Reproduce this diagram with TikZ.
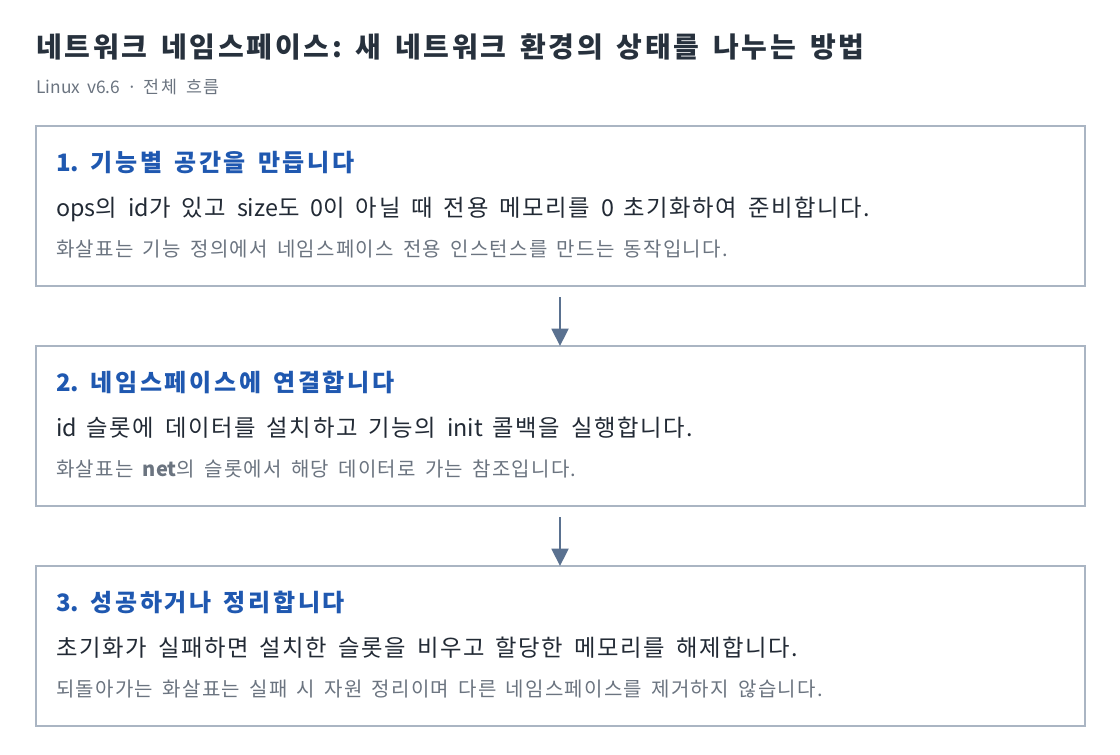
\documentclass[tikz,border=0pt]{standalone}
\usepackage{fontspec}
\setmainfont{Noto Sans CJK KR}
\usetikzlibrary{arrows.meta}
\definecolor{titlec}{HTML}{27313D}
\definecolor{subc}{HTML}{6B7480}
\definecolor{headc}{HTML}{1F58B0}
\definecolor{bodyc}{HTML}{222A35}
\definecolor{notec}{HTML}{6B7480}
\definecolor{framec}{HTML}{AAB5C3}
\definecolor{arrowc}{HTML}{5A7190}
% extra advance after each Hangul syllable
\XeTeXinterchartokenstate=1
\newXeTeXintercharclass\myhgclass
\newdimen\myhgap
\makeatletter
\count@="AC00
\loop\ifnum\count@<"D7A4 \XeTeXcharclass\count@=\myhgclass \advance\count@ by 1 \repeat
\makeatother
\XeTeXinterchartoks\myhgclass 0 = {\kern\myhgap}
\XeTeXinterchartoks\myhgclass\myhgclass = {\kern\myhgap}
\XeTeXinterchartoks\myhgclass 4095 = {\kern\myhgap}
\newcommand\mytitlefnt{\fontsize{21}{25}\selectfont\bfseries\myhgap=0.097em\spaceskip=0.4em\relax}
\newcommand\mysubfnt{\fontsize{13}{15}\selectfont\myhgap=0.1em\spaceskip=0.4em\relax}
\newcommand\myheadfnt{\fontsize{18}{21}\selectfont\bfseries\myhgap=0.11em\spaceskip=0.4em\relax}
\newcommand\mybodyfnt{\fontsize{17.5}{20}\selectfont\myhgap=0.07em\spaceskip=0.4em\relax}
\newcommand\mynotefnt{\fontsize{15}{17}\selectfont\myhgap=0.064em\spaceskip=0.4em\relax}
\tikzset{
  stepbox/.style={draw=framec, line width=1pt, fill=white},
  titletext/.style={anchor=base west, inner sep=0, text=titlec, font=\mytitlefnt},
  subtext/.style={anchor=base west, inner sep=0, text=subc, font=\mysubfnt},
  headtext/.style={anchor=base west, inner sep=0, text=headc, font=\myheadfnt},
  bodytext/.style={anchor=base west, inner sep=0, text=bodyc, font=\mybodyfnt},
  notetext/.style={anchor=base west, inner sep=0, text=notec, font=\mynotefnt},
  flow/.style={draw=arrowc, line width=2.2pt, -{Triangle[length=13pt,width=12.5pt]}, shorten >=0pt},
}
\begin{document}
\begin{tikzpicture}[x=0.75pt,y=-0.75pt]
\useasboundingbox[fill=white] (0,0) rectangle (1120,754);
\node[titletext] (title) at (36,57) {네트워크 네임스페이스: 새 네트워크 환경의 상태를 나누는 방법};
\node[subtext] (sub) at (36,93) {Linux v6.6 · 전체 흐름};

\draw[stepbox] (36,126) rectangle (1085,286);
\coordinate (b1top) at (560,126);
\coordinate (b1bot) at (560,286);
\node[headtext] (h1) at (56,171) {1. 기능별 공간을 만듭니다};
\node[bodytext] (t1) at (56,216) {ops의 id가 있고 size도 0이 아닐 때 전용 메모리를 0 초기화하여 준비합니다.};
\node[notetext] (n1) at (56,256) {화살표는 기능 정의에서 네임스페이스 전용 인스턴스를 만드는 동작입니다.};

\draw[stepbox] (36,346) rectangle (1085,506);
\coordinate (b2top) at (560,346);
\coordinate (b2bot) at (560,506);
\node[headtext] (h2) at (56,391) {2. 네임스페이스에 연결합니다};
\node[bodytext] (t2) at (56,436) {id 슬롯에 데이터를 설치하고 기능의 init 콜백을 실행합니다.};
\node[notetext] (n2) at (56,476) {화살표는 \textbf{net}의 슬롯에서 해당 데이터로 가는 참조입니다.};

\draw[stepbox] (36,566) rectangle (1085,726);
\coordinate (b3top) at (560,566);
\node[headtext] (h3) at (56,611) {3. 성공하거나 정리합니다};
\node[bodytext] (t3) at (56,656) {초기화가 실패하면 설치한 슬롯을 비우고 할당한 메모리를 해제합니다.};
\node[notetext] (n3) at (56,696) {되돌아가는 화살표는 실패 시 자원 정리이며 다른 네임스페이스를 제거하지 않습니다.};

\coordinate (a1s) at (560,297);
\coordinate (a2s) at (560,517);
\draw[flow] (a1s) -- (b2top);
\draw[flow] (a2s) -- (b3top);
\end{tikzpicture}
\end{document}
